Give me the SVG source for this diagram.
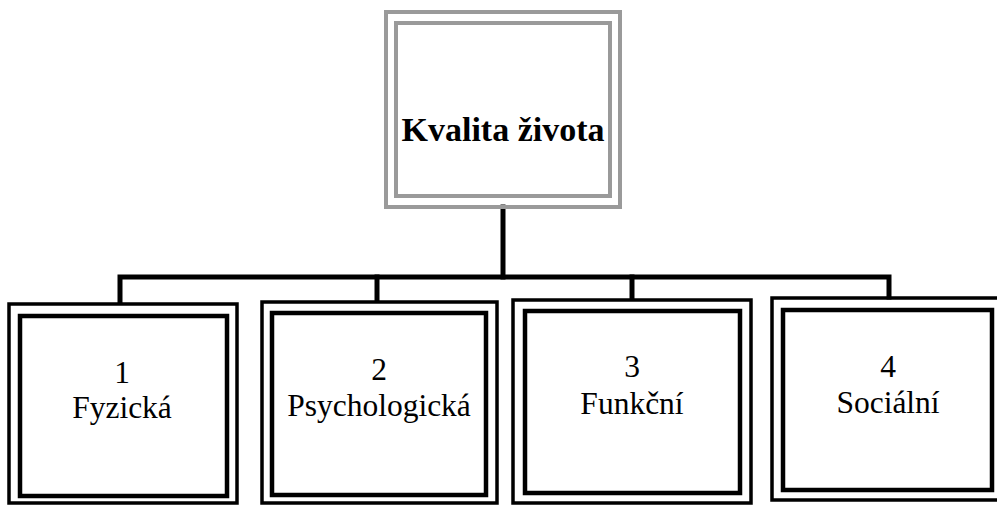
<svg xmlns="http://www.w3.org/2000/svg" width="997" height="505" viewBox="0 0 997 505">
<style>
.top{fill:none;stroke:#9a9a9a;stroke-width:4}
.outer{fill:none;stroke:#000;stroke-width:3.5}
.inner{fill:none;stroke:#000;stroke-width:4.5}
.conn{fill:none;stroke:#000;stroke-width:5;stroke-linecap:square}
</style>
<rect width="997" height="505" fill="#fff"/>
<g id="connectors">
<path class="conn" d="M503 207 V277"/>
<path class="conn" d="M120 302 V277 H889 V297"/>
<path class="conn" d="M377 277 V300"/>
<path class="conn" d="M632 277 V298"/>
</g>
<g id="root">
<rect class="top" x="386" y="12" width="234" height="195"/>
<rect class="top" x="396" y="23" width="214" height="173"/>
<text x="503" y="141" font-family="Liberation Serif, DejaVu Serif, serif" font-size="34" font-weight="bold" text-anchor="middle">Kvalita života</text>
</g>
<g font-family="Liberation Serif, DejaVu Serif, serif" font-size="31.5" text-anchor="middle" fill="#000">
<g id="n1">
<rect class="outer" x="9" y="304" width="228" height="199"/>
<rect class="inner" x="20" y="316" width="207" height="180"/>
<text x="122" y="383">1</text>
<text x="122" y="418">Fyzická</text>
</g>
<g id="n2">
<rect class="outer" x="262" y="302" width="235" height="201"/>
<rect class="inner" x="272" y="313" width="214" height="182"/>
<text x="379" y="380">2</text>
<text x="379" y="416">Psychologická</text>
</g>
<g id="n3">
<rect class="outer" x="513" y="300" width="238" height="203"/>
<rect class="inner" x="525" y="311" width="215" height="182"/>
<text x="632" y="377">3</text>
<text x="632" y="414">Funkční</text>
</g>
<g id="n4">
<rect class="outer" x="772" y="298" width="230" height="202"/>
<rect class="inner" x="783" y="310" width="209" height="180"/>
<text x="888" y="377">4</text>
<text x="888" y="413">Sociální</text>
</g>
</g>
</svg>
